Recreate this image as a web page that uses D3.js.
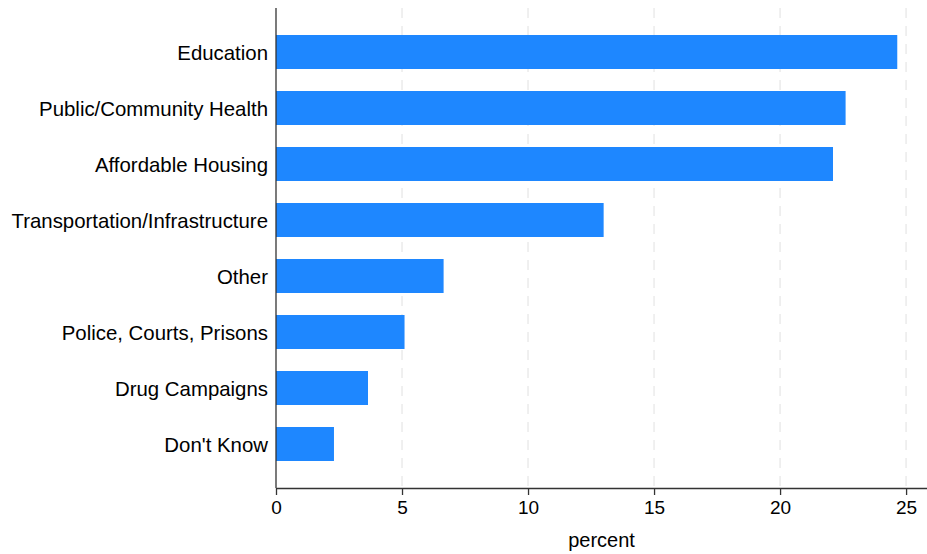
<!DOCTYPE html>
<html>
<head>
<meta charset="utf-8">
<script src="https://cdn.jsdelivr.net/npm/d3@7"></script>
<style>
  body { margin: 0; background: #fff; }
  svg { display: block; font-family: "Liberation Sans", Arial, Helvetica, sans-serif; }
</style>
</head>
<body>
<div id="chart"></div>
<script>
// Data
const categories = ["Education", "Public/Community Health", "Affordable Housing", "Transportation/Infrastructure",
  "Other", "Police, Courts, Prisons", "Drug Campaigns", "Don't Know"];
const percents = [24.65, 22.6, 22.1, 13.0, 6.65, 5.1, 3.65, 2.3];
const xTicks = [0, 5, 10, 15, 20, 25];

const width = 927, height = 554;
const margin = { top: 8, right: 0, bottom: 65, left: 276 };

const data = categories.map((c, i) => ({ category: c, value: percents[i] }));

const svg = d3.select("#chart").append("svg")
  .attr("width", width)
  .attr("height", height);

const x = d3.scaleLinear().domain([0, 25.83]).range([margin.left, width - margin.right]);
const y = d3.scaleBand().domain(categories).range([24, 472]).paddingInner(0.393).paddingOuter(0.1965);
const yBottom = height - margin.bottom - 1;

// Dashed gridlines
svg.append("g")
  .selectAll("line")
  .data(xTicks.filter(d => d > 0))
  .enter().append("line")
  .attr("x1", d => x(d)).attr("x2", d => x(d))
  .attr("y1", margin.top).attr("y2", yBottom)
  .attr("stroke", "#ebebeb")
  .attr("stroke-width", 1.5)
  .attr("stroke-dasharray", "10,8");

// Bars
svg.append("g")
  .selectAll("rect")
  .data(data)
  .enter().append("rect")
  .attr("x", x(0))
  .attr("y", d => y(d.category))
  .attr("width", d => x(d.value) - x(0))
  .attr("height", y.bandwidth())
  .attr("fill", "#1e87ff");

// Y axis
const yAxis = svg.append("g")
  .attr("transform", `translate(${margin.left},0)`)
  .call(d3.axisLeft(y).tickSize(0).tickPadding(8));
yAxis.select(".domain").remove();
yAxis.selectAll("text").style("font-size", "20.4px").attr("fill", "#000").attr("dy", "0.38em");
svg.append("line")
  .attr("x1", margin.left).attr("x2", margin.left)
  .attr("y1", margin.top).attr("y2", yBottom)
  .attr("stroke", "#333").attr("stroke-width", 1.3);

// X axis
const xAxis = svg.append("g")
  .attr("transform", `translate(0,${yBottom})`)
  .call(d3.axisBottom(x).tickValues(xTicks).tickSize(7).tickPadding(6).tickSizeOuter(0));
xAxis.select(".domain").attr("stroke", "#333").attr("stroke-width", 1.3);
xAxis.selectAll(".tick line").attr("stroke", "#333").attr("stroke-width", 1.3);
xAxis.selectAll("text").style("font-size", "19px").attr("fill", "#000");

svg.append("text")
  .attr("x", (x(0) + x(25.83)) / 2)
  .attr("y", 547)
  .attr("text-anchor", "middle")
  .style("font-size", "20px")
  .text("percent");
</script>
</body>
</html>
